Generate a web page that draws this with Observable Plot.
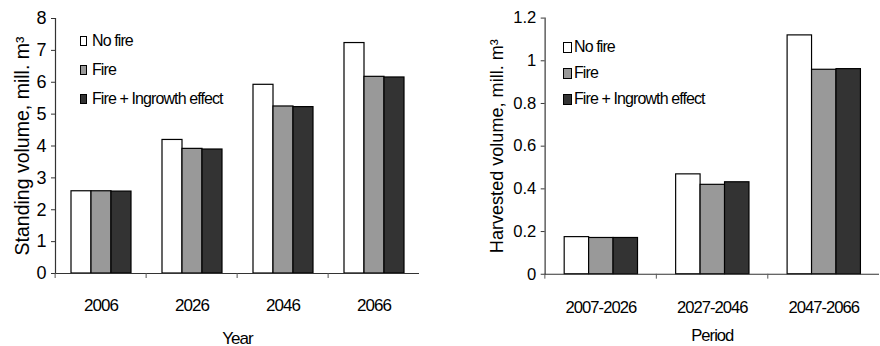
<!DOCTYPE html>
<html>
<head>
<meta charset="utf-8">
<script src="https://cdn.jsdelivr.net/npm/d3@7"></script>
<script src="https://cdn.jsdelivr.net/npm/@observablehq/plot@0.6"></script>
<style>
  html, body { margin: 0; padding: 0; background: #fff; overflow: hidden; }
  #wrap { position: relative; width: 880px; height: 346px; overflow: hidden; font-family: "Liberation Sans", Arial, sans-serif; }
  .panel { position: absolute; top: 0; }
  .panel svg { display: block; overflow: visible; }
  .legend { position: absolute; font-size: 16px; letter-spacing: -0.9px; color: #000; }
  .item { position: absolute; white-space: nowrap; display: flex; align-items: center; }
  .sw { display: inline-block; box-sizing: border-box; border: 1px solid #000; margin-right: 2px; }
</style>
</head>
<body>
<div id="wrap">
  <div class="panel" id="left" style="left:0"></div>
  <div class="panel" id="right" style="left:440px"></div>
</div>
<script>
const series = ["No fire", "Fire", "Fire + Ingrowth effect"];
const seriesColors = ["#ffffff", "#999999", "#333333"];

const years = ["2006", "2026", "2046", "2066"];
const standNoFire = [2.58, 4.19, 5.92, 7.23];
const standFire = [2.58, 3.91, 5.24, 6.17];
const standFireIngrowth = [2.57, 3.89, 5.22, 6.15];
const standTicks = [0, 1, 2, 3, 4, 5, 6, 7, 8];

const periods = ["2007-2026", "2027-2046", "2047-2066"];
const harvNoFire = [0.174, 0.468, 1.119];
const harvFire = [0.170, 0.419, 0.958];
const harvFireIngrowth = [0.170, 0.431, 0.961];
const harvTicks = [0, 0.2, 0.4, 0.6, 0.8, 1, 1.2];

function rows(cats, arrays) {
  const out = [];
  cats.forEach((c, i) => arrays.forEach((a, s) => out.push({cat: c, series: series[s], value: a[i]})));
  return out;
}

function chart({data, cats, yDomain, yTicks, width, height, mt, mb, ml, mr, yLabel, xLabel, yFont, xPad, xLabelOffset, yLabelOffset, yLabelFont}) {
  const bw = (width - ml - mr) / cats.length;
  return Plot.plot({
    width, height,
    marginTop: mt, marginBottom: mb, marginLeft: ml, marginRight: mr,
    style: {fontFamily: "Liberation Sans, Arial, sans-serif", fontSize: "17px", color: "#000", background: "#fff"},
    fx: {domain: cats, padding: 0, axis: null},
    x: {domain: series, paddingInner: 0, paddingOuter: 0.74, axis: null},
    y: {domain: yDomain, axis: null},
    color: {domain: series, range: seriesColors},
    marks: [
      Plot.barY(data, {fx: "cat", x: "series", y: "value", fill: "series", stroke: "#000", strokeWidth: 1.2}),
      Plot.ruleY([0], {stroke: "#333", strokeWidth: 1.2}),
      Plot.frame({anchor: "left", facetAnchor: "left", stroke: "#333", strokeWidth: 1.2}),
      Plot.axisY({ticks: yTicks, tickSize: 4, tickPadding: 5, tickFormat: d => String(+d.toFixed(1)),
        fontSize: yFont, label: null, stroke: "#333"}),
      Plot.axisY({ticks: [], tickSize: 0, label: yLabel, labelArrow: "none", labelAnchor: "center",
        labelOffset: yLabelOffset, fontSize: yLabelFont}),
      Plot.axisFx({anchor: "bottom", tickSize: 0, tickPadding: xPad, fontSize: 17, label: xLabel, labelAnchor: "center",
        labelArrow: "none", labelOffset: xLabelOffset}),
      Plot.axisFx({anchor: "bottom", tickSize: 5, fill: "none", label: null, dx: -bw / 2, stroke: "#555"})
    ]
  });
}

const left = chart({
  data: rows(years, [standNoFire, standFire, standFireIngrowth]),
  cats: years, yDomain: [0, 8], yTicks: standTicks,
  width: 440, height: 346, mt: 18, mb: 73, ml: 53, mr: 20,
  yLabel: "Standing volume, mill. m³", xLabel: "Year", yFont: 18, xPad: 25, xLabelOffset: 70, yLabelOffset: 40, yLabelFont: 19.5
});
const right = chart({
  data: rows(periods, [harvNoFire, harvFire, harvFireIngrowth]),
  cats: periods, yDomain: [0, 1.2], yTicks: harvTicks,
  width: 450, height: 346, mt: 18, mb: 66, ml: 106, mr: 0.5,
  yLabel: "Harvested volume, mill. m³", xLabel: "Period", yFont: 17, xPad: 28, xLabelOffset: 68, yLabelOffset: 56, yLabelFont: 18.5
});
document.getElementById("left").appendChild(left);
document.getElementById("right").appendChild(right);
// condensed look of the category tick labels
for (const svg of [left, right]) {
  svg.querySelectorAll('[aria-label="fx-axis tick label"] text, [aria-label="fx-axis label"] text')
    .forEach(t => t.style.letterSpacing = "-1px");
}

function legend(left, top, rowH, swW, swH, textLeft) {
  const div = document.createElement("div");
  div.className = "legend";
  div.style.left = left + "px";
  div.style.top = top + "px";
  series.forEach((s, i) => {
    const item = document.createElement("div");
    item.className = "item";
    item.style.top = (i * rowH - 10) + "px";
    item.style.height = "20px";
    const sw = document.createElement("span");
    sw.className = "sw";
    sw.style.width = swW + "px";
    sw.style.height = swH + "px";
    sw.style.background = seriesColors[i];
    sw.style.marginRight = (textLeft - swW) + "px";
    item.appendChild(sw);
    item.appendChild(document.createTextNode(s));
    div.appendChild(item);
  });
  document.getElementById("wrap").appendChild(div);
}
legend(80, 41, 29, 7, 10, 12);
legend(563, 47, 26.2, 9, 11, 11);
</script>
</body>
</html>
